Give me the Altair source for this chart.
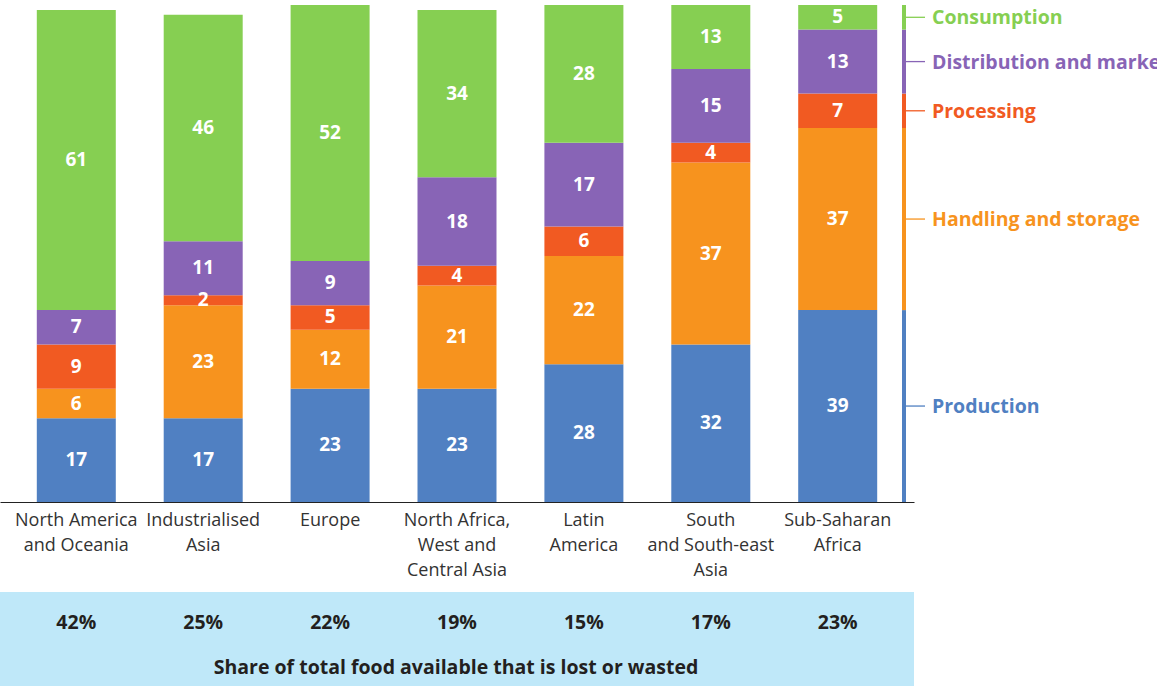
import altair as alt
import pandas as pd

# Regions (line breaks mark where the axis label wraps)
regions = [
    "North America\nand Oceania",
    "Industrialised\nAsia",
    "Europe",
    "North Africa,\nWest and\nCentral Asia",
    "Latin\nAmerica",
    "South\nand South-east\nAsia",
    "Sub-Saharan\nAfrica",
]

# Stages of the food supply chain, bottom to top
stages = ["Production", "Handling and storage", "Processing",
          "Distribution and marketing", "Consumption"]
stage_colors = ["#5080C2", "#F7931E", "#F15A22", "#8864B6", "#86CF52"]

# Percentage of losses and waste at each stage, per region
production = [17, 17, 23, 23, 28, 32, 39]
handling = [6, 23, 12, 21, 22, 37, 37]
processing = [9, 2, 5, 4, 6, 4, 7]
distribution = [7, 11, 9, 18, 17, 15, 13]
consumption = [61, 46, 52, 34, 28, 13, 5]

# Share of total food available that is lost or wasted
share = ["42%", "25%", "22%", "19%", "15%", "17%", "23%"]

series = [production, handling, processing, distribution, consumption]
rows = []
for si, (stage, vals) in enumerate(zip(stages, series)):
    for region, v in zip(regions, vals):
        rows.append({"region": region, "stage": stage, "order": si, "value": v})
df = pd.DataFrame(rows)
share_df = pd.DataFrame({"region": regions, "share": share})
caption_df = pd.DataFrame({"caption": ["Share of total food available that is lost or wasted"]})

FONT = "Open Sans"

x_enc = alt.X(
    "region:N", sort=regions, title=None,
    scale=alt.Scale(paddingInner=0.3775, paddingOuter=0.29),
    axis=alt.Axis(labelAngle=0, labelExpr="split(datum.label, '\\n')",
                  labelFont=FONT, labelFontSize=18, labelColor="#333333",
                  labelLineHeight=25, labelPadding=9, ticks=False,
                  domainColor="#222222", domainWidth=1.2, grid=False),
)
y_scale = alt.Scale(domain=[0, 101], nice=False, zero=True)
color_enc = alt.Color("stage:N", scale=alt.Scale(domain=stages, range=stage_colors), legend=None)

stacked = alt.Chart(df).transform_stack(
    stack="value", groupby=["region"], as_=["y0", "y1"],
    sort=[alt.SortField("order", order="ascending")],
).transform_calculate(mid="(datum.y0 + datum.y1) / 2")

bars = stacked.mark_bar().encode(
    x=x_enc,
    y=alt.Y("y0:Q", scale=y_scale, axis=None),
    y2="y1:Q",
    color=color_enc,
)

values = stacked.mark_text(color="white", font=FONT, fontWeight="bold", fontSize=19).encode(
    x=alt.X("region:N", sort=regions),
    y=alt.Y("mid:Q", scale=y_scale),
    text="value:Q",
)

# Slim stacked key beside the chart, built from the last region
key = stacked.transform_filter(alt.datum.region == regions[-1])
key_bar = key.mark_bar().encode(
    x=alt.value(902), x2=alt.value(906),
    y=alt.Y("y0:Q", scale=y_scale), y2="y1:Q",
    color=color_enc,
)
key_ticks = key.mark_rule(strokeWidth=1.3).encode(
    x=alt.value(906), x2=alt.value(925),
    y=alt.Y("mid:Q", scale=y_scale),
    color=color_enc,
)
key_text = key.mark_text(align="left", baseline="middle", font=FONT,
                         fontWeight="bold", fontSize=19.5, dy=1).encode(
    x=alt.value(932),
    y=alt.Y("mid:Q", scale=y_scale),
    text="stage:N",
    color=color_enc,
)

# Light blue panel with the overall shares underneath
panel = alt.Chart(caption_df).mark_rect(color="#BFE8F9").encode(
    x=alt.value(0), x2=alt.value(914), y=alt.value(587), y2=alt.value(681),
)
shares = alt.Chart(share_df).mark_text(font=FONT, fontWeight="bold", fontSize=19.5,
                                       color="#231F20").encode(
    x=alt.X("region:N", sort=regions),
    y=alt.value(618),
    text="share:N",
)
caption = alt.Chart(caption_df).mark_text(font=FONT, fontWeight="bold", fontSize=19.5,
                                          color="#231F20").encode(
    x=alt.value(456), y=alt.value(663), text="caption:N",
)

chart = alt.layer(
    panel, bars, values, key_bar, key_ticks, key_text, shares, caption
).properties(
    width=914, height=497,
    autosize=alt.AutoSizeParams(type="none"),
    padding={"left": 0, "top": 5, "right": 243, "bottom": 184},
).configure_view(stroke=None)

chart.save("out.html", embed_options={"renderer": "svg", "actions": False})
